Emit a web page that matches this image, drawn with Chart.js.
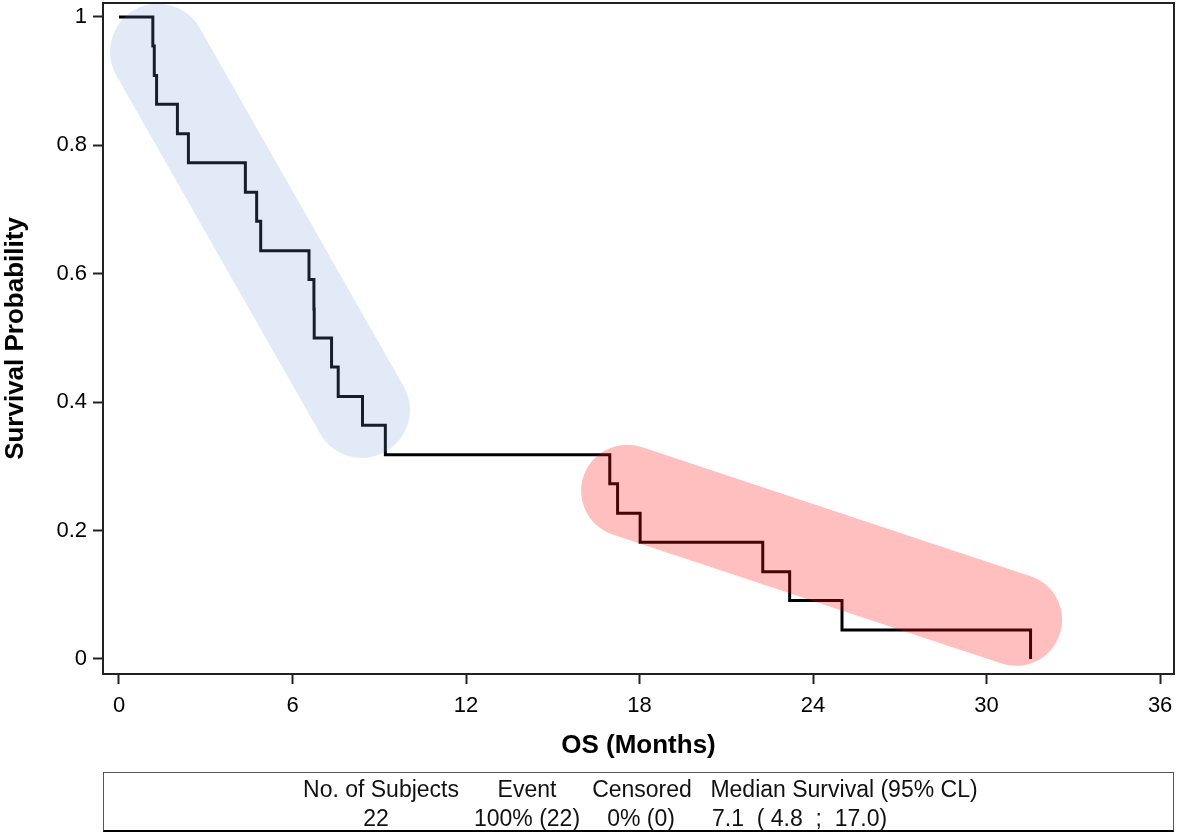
<!DOCTYPE html>
<html>
<head>
<meta charset="utf-8">
<script src="https://cdn.jsdelivr.net/npm/chart.js@4.4.0/dist/chart.umd.min.js"></script>
<style>
  body { margin: 0; background: #fff; }
  #wrap { position: relative; width: 1177px; height: 833px; }
  #km { position: absolute; left: 0; top: 0; }
  #table {
    position: absolute; left: 103px; top: 772px; width: 1069px; height: 57px;
    border: 1px solid #555; border-bottom: 2px solid #000;
    font-family: "Liberation Sans", Arial, sans-serif; font-size: 23px; color: #111;
  }
  .cell { position: absolute; white-space: pre; transform: translate(-50%, -50%); line-height: 1; }
  .left { transform: translate(0, -50%); }
</style>
</head>
<body>
<div id="wrap">
  <canvas id="km" width="1177" height="833"></canvas>
  <div id="table"></div>
</div>
<script>
// Kaplan-Meier curve: event times (months) and survival after each event
var times = [0, 1.17, 1.22, 1.30, 2.02, 2.40, 4.37, 4.76, 4.90, 6.57, 6.74, 6.75, 7.35, 7.58, 8.42, 9.21,
  16.97, 17.24, 18.02, 22.26, 23.19, 25.00, 31.52];
var survival = [1, 0.955, 0.909, 0.864, 0.818, 0.773, 0.727, 0.682, 0.636, 0.591, 0.545, 0.5, 0.455, 0.409,
  0.364, 0.318, 0.273, 0.227, 0.182, 0.136, 0.091, 0.045, 0];

var xTicks = [0, 6, 12, 18, 24, 30, 36];
var yTicks = [0, 0.2, 0.4, 0.6, 0.8, 1];
var yTickLabels = ["0", "0.2", "0.4", "0.6", "0.8", "1"];

// highlighted phases, as [start, end] points in (months, probability)
var earlyPhase = [[1.35, 0.946], [8.40, 0.388]];
var latePhase = [[17.57, 0.262], [31.02, 0.061]];

// summary table
var tableHead = ["No. of Subjects", "Event", "Censored", "Median Survival (95% CL)"];
var tableRow = ["22", "100% (22)", "0% (0)", "7.1  ( 4.8  ;  17.0)"];

var FONT = "'Liberation Sans', Arial, sans-serif";

// summary table placement (html text)
var headX = [380, 526, 641, 843];
var rowX = [375, 526, 640, 711];
var tbl = document.getElementById("table");
tableHead.forEach(function (t, i) {
  var s = document.createElement("span");
  s.className = "cell";
  s.textContent = t;
  s.style.left = (headX[i] - 103) + "px";
  s.style.top = (788 - 772) + "px";
  tbl.appendChild(s);
});
tableRow.forEach(function (t, i) {
  var s = document.createElement("span");
  s.className = i == 3 ? "cell left" : "cell";
  s.textContent = t;
  s.style.left = (rowX[i] - 103) + "px";
  s.style.top = (817 - 772) + "px";
  tbl.appendChild(s);
});

var points = times.map(function (t, i) { return { x: t, y: survival[i] }; });

var highlights = [
  { ends: earlyPhase, color: "rgba(110,150,220,0.2)", width: 96 },
  { ends: latePhase, color: "rgba(255,20,20,0.27)", width: 92 },
];

const ctx = document.getElementById("km");

new Chart(ctx, {
  type: "line",
  data: {
    datasets: [
      {
        label: "OS",
        data: points,
        stepped: "before",
        borderColor: "#000",
        borderWidth: 3,
        pointRadius: 0,
        fill: false,
        borderCapStyle: "butt",
        borderJoinStyle: "miter",
      },
    ],
  },
  options: {
    responsive: false,
    animation: false,
    events: [],
    layout: { padding: { left: 0, top: 3, right: 3, bottom: 72 } },
    plugins: {
      legend: { display: false },
      tooltip: { enabled: false },
    },
    scales: {
      x: {
        type: "linear",
        min: -0.553,
        max: 36.48,
        afterBuildTicks: function (s) { s.ticks = xTicks.map(function (v) { return { value: v }; }); },
        afterFit: function (s) {
          s.height = 87;
          s.paddingLeft = 0;
          s.paddingRight = 0;
        },
        border: { display: false },
        grid: { display: true, drawOnChartArea: false, drawTicks: true, tickLength: 10, tickColor: "#222", tickWidth: 2 },
        ticks: { color: "#000", padding: 9, maxRotation: 0, autoSkip: false, font: { family: FONT, size: 22 } },
        title: {
          display: true,
          text: "OS (Months)",
          color: "#000",
          padding: 0,
          font: { family: FONT, size: 26, weight: "bold" },
        },
      },
      y: {
        min: -0.0234,
        max: 1.0218,
        afterBuildTicks: function (s) { s.ticks = yTicks.map(function (v) { return { value: v }; }); },
        afterFit: function (s) {
          s.width = 103;
          s.paddingTop = 0;
          s.paddingBottom = 0;
        },
        border: { display: false },
        grid: { display: true, drawOnChartArea: false, drawTicks: true, tickLength: 10, tickColor: "#222", tickWidth: 2 },
        ticks: {
          color: "#000",
          padding: 6,
          font: { family: FONT, size: 22 },
          callback: function (value, index) { return yTickLabels[index]; },
        },
        title: {
          display: true,
          text: "Survival Probability",
          color: "#000",
          padding: 0,
          font: { family: FONT, size: 26, weight: "bold" },
        },
      },
    },
  },
  plugins: [
    {
      id: "phaseHighlights",
      afterDatasetsDraw: function (chart) {
        const c = chart.ctx, xs = chart.scales.x, ys = chart.scales.y;
        c.save();
        highlights.forEach(function (h) {
          c.beginPath();
          c.moveTo(xs.getPixelForValue(h.ends[0][0]), ys.getPixelForValue(h.ends[0][1]));
          c.lineTo(xs.getPixelForValue(h.ends[1][0]), ys.getPixelForValue(h.ends[1][1]));
          c.lineCap = "round";
          c.lineWidth = h.width;
          c.strokeStyle = h.color;
          c.stroke();
        });
        c.restore();
      },
    },
    {
      id: "frame",
      afterDraw: function (chart) {
        const c = chart.ctx, a = chart.chartArea;
        c.save();
        c.strokeStyle = "#222";
        c.lineWidth = 2;
        c.strokeRect(a.left, a.top, a.right - a.left, a.bottom - a.top);
        c.restore();
      },
    },
  ],
});
</script>
</body>
</html>
